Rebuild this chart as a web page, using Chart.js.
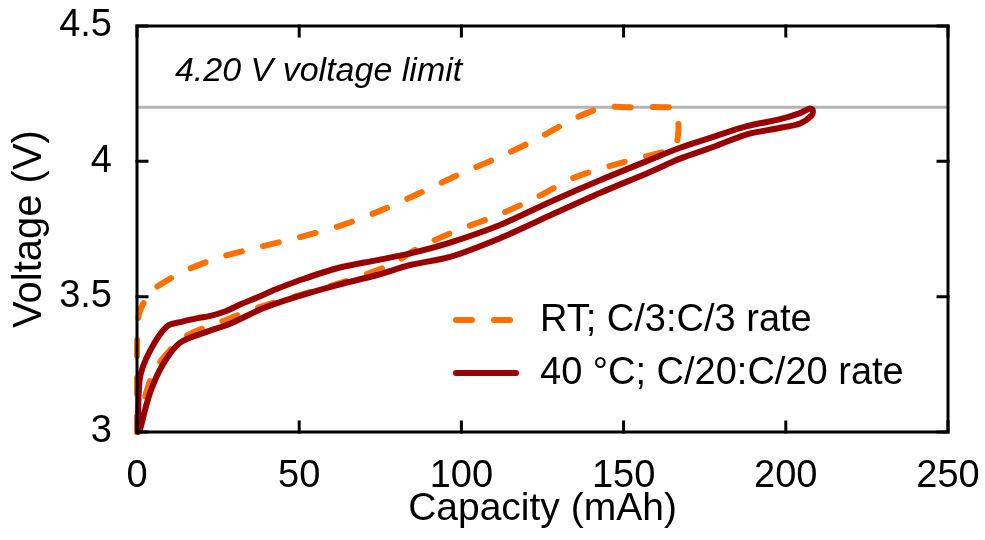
<!DOCTYPE html>
<html>
<head>
<meta charset="utf-8">
<script src="https://cdn.jsdelivr.net/npm/chart.js@4.4.1/dist/chart.umd.min.js"></script>
<style>
  html, body { margin: 0; padding: 0; background: #fff; }
  #wrap { width: 985px; height: 540px; }
</style>
</head>
<body>
<div id="wrap"><canvas id="chart" width="985" height="540"></canvas></div>
<script>
const FONT = '"Liberation Sans", Arial, sans-serif';

// RT; C/3:C/3 rate -- charge up to the limit, then discharge back
const rtCapacity = [0, 0, 0.5, 2, 4, 13.3, 25, 37.9, 50.2, 62.6, 74.9, 87.2, 99, 111, 122.7, 134, 138.7, 143.7,
  152, 162, 165.5, 166.8, 166.8, 166, 164, 162, 146.7, 134.4, 122.7, 111, 99, 87.2, 78, 63.5, 50.2, 37.9,
  25.6, 14.2, 5.5, 2, 0.3];
const rtVoltage = [3.0, 3.3, 3.43, 3.476, 3.517, 3.587, 3.643, 3.684, 3.72, 3.762, 3.817, 3.883, 3.95, 4.012, 4.079,
  4.153, 4.178, 4.2, 4.2, 4.2, 4.195, 4.15, 4.1, 4.055, 4.04, 4.034, 3.986, 3.938, 3.864, 3.80, 3.746, 3.683,
  3.617, 3.554, 3.506, 3.462, 3.406, 3.347, 3.23, 3.107, 3.007];

// 40 °C; C/20:C/20 rate
const hotCapacity = [0.3, 0.9, 4, 9.2, 14, 18.5, 23, 27.5, 32, 37, 43, 49.3, 61.7, 74, 84.2, 96.5, 111.9, 127.3,
  142.7, 158, 167.4, 177.6, 188, 198, 204.4, 207.3, 208.3, 208, 204.4, 198, 188, 177.6, 167.4, 158, 142.7, 127.3,
  111.9, 96.5, 84.2, 74, 61.7, 49.3, 38.9, 28.7, 21.5, 13.3, 8, 4, 0.9];
const hotVoltage = [3.0, 3.2, 3.3, 3.39, 3.408, 3.42, 3.43, 3.447, 3.472, 3.497, 3.528, 3.557, 3.605, 3.635, 3.66,
  3.70, 3.765, 3.85, 3.93, 4.005, 4.05, 4.09, 4.13, 4.155, 4.178, 4.195, 4.19, 4.17, 4.14, 4.123, 4.10, 4.053, 4.01,
  3.96, 3.883, 3.80, 3.716, 3.647, 3.617, 3.58, 3.543, 3.50, 3.457, 3.40, 3.37, 3.33, 3.25, 3.144, 3.007];

const limitCapacity = [0, 250];
const limitVoltage = [4.2, 4.2];

const seriesLabels = ['RT; C/3:C/3 rate', '40 °C; C/20:C/20 rate'];
const limitText = '4.20 V voltage limit';

const xTicks = [0, 50, 100, 150, 200, 250];
const yTicks = [3, 3.5, 4, 4.5];

function toPoints(xs, ys) {
  return xs.map((x, i) => ({ x: x, y: ys[i] }));
}

// frame, inward ticks on all sides, annotation text and the legend
const decorations = {
  id: 'decorations',
  afterDraw(chart) {
    const ctx = chart.ctx;
    const a = chart.chartArea;
    const xs = chart.scales.x;
    const ys = chart.scales.y;
    ctx.save();
    ctx.strokeStyle = '#000';
    ctx.lineWidth = 3;
    ctx.lineCap = 'square';
    ctx.strokeRect(a.left, a.top, a.right - a.left, a.bottom - a.top);
    const tl = 10;
    ctx.beginPath();
    xTicks.forEach(v => {
      const px = xs.getPixelForValue(v);
      ctx.moveTo(px, a.bottom); ctx.lineTo(px, a.bottom - tl);
      ctx.moveTo(px, a.top); ctx.lineTo(px, a.top + tl);
    });
    yTicks.forEach(v => {
      const py = ys.getPixelForValue(v);
      ctx.moveTo(a.left, py); ctx.lineTo(a.left + tl, py);
      ctx.moveTo(a.right, py); ctx.lineTo(a.right - tl, py);
    });
    ctx.stroke();

    ctx.fillStyle = '#000';
    ctx.font = 'italic 34px ' + FONT;
    ctx.textBaseline = 'middle';
    ctx.textAlign = 'left';
    ctx.fillText(limitText, xs.getPixelForValue(11.7), ys.getPixelForValue(4.33));

    // legend
    const rows = [320, 373];
    [0, 1].forEach(i => {
      const ds = chart.data.datasets[i];
      ctx.beginPath();
      ctx.strokeStyle = ds.borderColor;
      ctx.lineWidth = ds.borderWidth;
      ctx.lineCap = 'round';
      ctx.setLineDash(ds.borderDash || []);
      ctx.moveTo(456, rows[i]);
      ctx.lineTo(516, rows[i]);
      ctx.stroke();
      ctx.setLineDash([]);
      ctx.fillStyle = '#000';
      ctx.font = '38px ' + FONT;
      ctx.fillText(ds.label, 540, rows[i] + 1);
    });
    ctx.restore();
  }
};

new Chart(document.getElementById('chart'), {
  type: 'scatter',
  data: {
    datasets: [
      {
        label: seriesLabels[0],
        data: toPoints(rtCapacity, rtVoltage),
        showLine: true,
        borderColor: '#ff7000',
        borderWidth: 6,
        borderDash: [16, 22],
        borderCapStyle: 'round',
        pointRadius: 0,
        tension: 0.3,
        clip: false,
        order: 1
      },
      {
        label: seriesLabels[1],
        data: toPoints(hotCapacity, hotVoltage),
        showLine: true,
        borderColor: '#990000',
        borderWidth: 6,
        borderCapStyle: 'round',
        pointRadius: 0,
        tension: 0.3,
        clip: false,
        order: 0
      },
      {
        label: 'limit',
        data: toPoints(limitCapacity, limitVoltage),
        showLine: true,
        borderColor: '#b4b4b4',
        borderWidth: 3,
        pointRadius: 0,
        order: 2
      }
    ]
  },
  options: {
    responsive: false,
    animation: false,
    layout: { padding: { top: 26, right: 37, left: 0, bottom: 0 } },
    plugins: {
      legend: { display: false },
      tooltip: { enabled: false }
    },
    scales: {
      x: {
        type: 'linear',
        min: 0,
        max: 250,
        afterBuildTicks: s => { s.ticks = xTicks.map(v => ({ value: v })); },
        afterFit: s => { s.height = 108; s.paddingLeft = 0; s.paddingRight = 0; },
        grid: { display: false, drawTicks: false },
        border: { display: false },
        ticks: { color: '#000', font: { family: FONT, size: 38 }, padding: 22, maxRotation: 0 },
        title: { display: true, text: 'Capacity (mAh)', color: '#000', font: { family: FONT, size: 39 }, padding: { top: 0, bottom: 7 } }
      },
      y: {
        type: 'linear',
        min: 3,
        max: 4.5,
        afterBuildTicks: s => { s.ticks = yTicks.map(v => ({ value: v })); },
        afterFit: s => { s.width = 137; s.paddingTop = 0; s.paddingBottom = 0; },
        grid: { display: false, drawTicks: false },
        border: { display: false },
        ticks: { color: '#000', font: { family: FONT, size: 38 }, padding: 25, callback: v => String(v) },
        title: { display: true, text: 'Voltage (V)', color: '#000', font: { family: FONT, size: 40 }, padding: { top: 6, bottom: 0 } }
      }
    }
  },
  plugins: [decorations]
});
</script>
</body>
</html>
